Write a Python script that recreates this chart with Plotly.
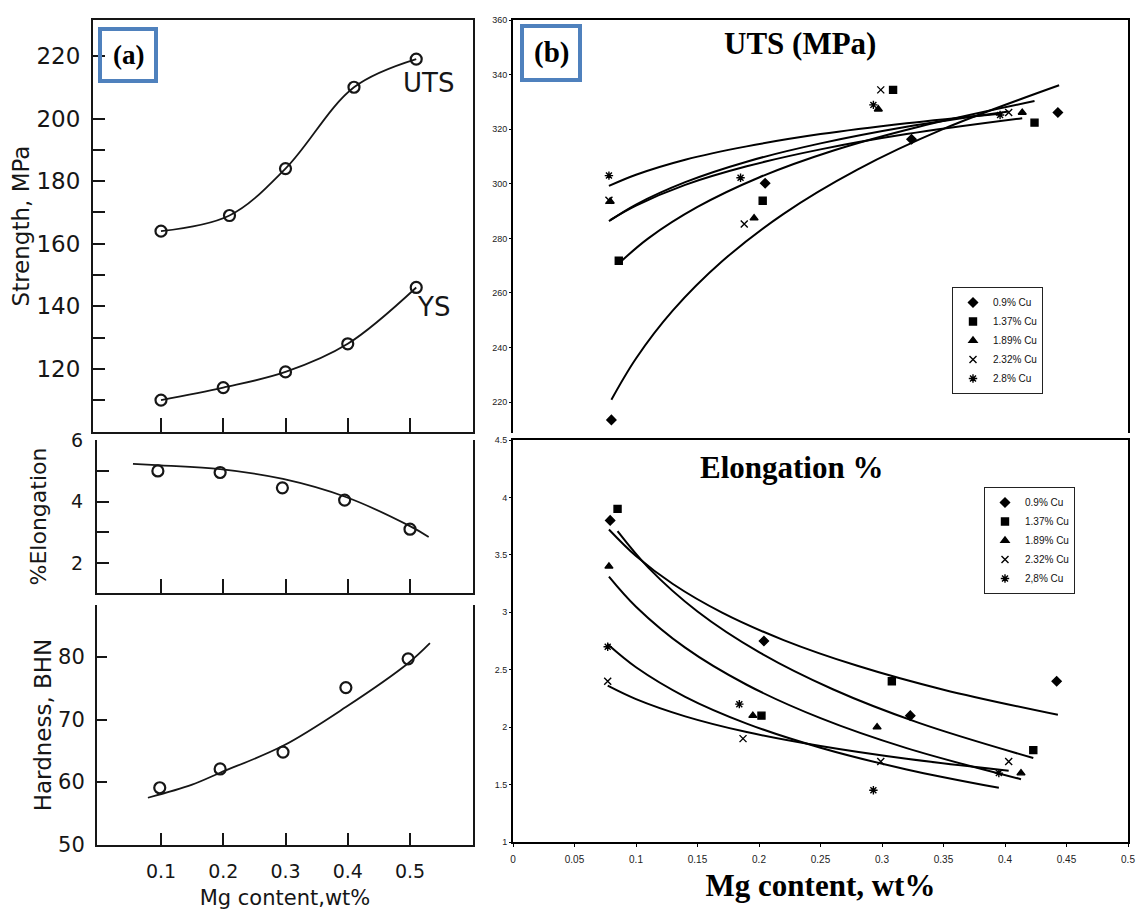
import plotly.graph_objects as go

W, H = 1137, 912


def fx(p):
    return p / W


def fy(p):
    return 1 - p / H


# ---------------- Panel (a) data ----------------
a_uts_x = [0.10, 0.21, 0.30, 0.41, 0.51]
a_uts = [164, 169, 184, 210, 219]
a_ys_x = [0.10, 0.20, 0.30, 0.40, 0.51]
a_ys = [110, 114, 119, 128, 146]

a_el_x = [0.095, 0.195, 0.295, 0.395, 0.50]
a_el = [5.0, 4.95, 4.45, 4.05, 3.1]
a_el_fit_x = [0.055, 0.10, 0.195, 0.296, 0.397, 0.50, 0.53]
a_el_fit = [5.23, 5.18, 5.06, 4.74, 4.15, 3.20, 2.85]

a_hd_x = [0.098, 0.195, 0.296, 0.397, 0.497]
a_hd = [59.1, 62.1, 64.8, 75.1, 79.7]
a_hd_fit_x = [0.079, 0.15, 0.195, 0.296, 0.397, 0.497, 0.532]
a_hd_fit = [57.5, 59.6, 61.5, 65.8, 72.0, 79.0, 82.2]

a_xticks = [0.1, 0.2, 0.3, 0.4, 0.5]
a_xticktext = ["0.1", "0.2", "0.3", "0.4", "0.5"]

# ---------------- Panel (b) data ----------------
series_names = ["0.9% Cu", "1.37% Cu", "1.89% Cu", "2.32% Cu", "2.8% Cu"]
series_names_el = ["0.9% Cu", "1.37% Cu", "1.89% Cu", "2.32% Cu", "2,8% Cu"]

uts_x_09 = [0.080, 0.205, 0.324, 0.443]
uts_09 = [213.5, 300.2, 316.3, 326.1]
uts_x_137 = [0.086, 0.203, 0.309, 0.424]
uts_137 = [271.8, 293.8, 334.4, 322.4]
uts_x_189 = [0.079, 0.196, 0.297, 0.414]
uts_189 = [293.5, 287.4, 327.3, 326.1]
uts_x_232 = [0.078, 0.188, 0.299, 0.403]
uts_232 = [294.0, 285.3, 334.4, 326.1]
uts_x_28 = [0.078, 0.185, 0.293, 0.396]
uts_28 = [303.0, 302.2, 328.9, 325.2]

# trend curves
uts_fit_x_09 = [0.080, 0.10, 0.13, 0.17, 0.22, 0.28, 0.35, 0.444]
uts_fit_09 = [220.9, 236.0, 253.6, 271.6, 289.0, 305.2, 320.1, 336.1]
uts_fit_x_137 = [0.086, 0.11, 0.15, 0.20, 0.26, 0.33, 0.424]
uts_fit_137 = [270.8, 280.0, 291.5, 302.3, 312.1, 320.9, 330.3]
uts_fit_x_189 = [0.079, 0.10, 0.14, 0.19, 0.25, 0.32, 0.414]
uts_fit_189 = [286.7, 292.0, 299.6, 306.4, 312.6, 318.2, 324.0]
uts_fit_x_232 = [0.078, 0.10, 0.14, 0.19, 0.25, 0.32, 0.403]
uts_fit_232 = [286.3, 292.4, 300.6, 308.1, 314.8, 320.9, 326.5]
uts_fit_x_28 = [0.078, 0.10, 0.14, 0.19, 0.25, 0.32, 0.396]
uts_fit_28 = [299.2, 303.3, 308.8, 313.7, 318.2, 322.2, 325.7]

el_x_09 = [0.079, 0.204, 0.323, 0.442]
el_09 = [3.8, 2.75, 2.1, 2.4]
el_x_137 = [0.085, 0.202, 0.308, 0.423]
el_137 = [3.9, 2.1, 2.4, 1.8]
el_x_189 = [0.078, 0.195, 0.296, 0.413]
el_189 = [3.4, 2.1, 2.0, 1.6]
el_x_232 = [0.077, 0.187, 0.299, 0.403]
el_232 = [2.4, 1.9, 1.7, 1.7]
el_x_28 = [0.077, 0.184, 0.293, 0.395]
el_28 = [2.7, 2.2, 1.45, 1.6]

el_fit_x_09 = [0.078, 0.10, 0.13, 0.17, 0.22, 0.28, 0.35, 0.443]
el_fit_09 = [3.721, 3.490, 3.246, 2.997, 2.758, 2.534, 2.326, 2.107]
el_fit_x_137 = [0.085, 0.11, 0.15, 0.20, 0.26, 0.33, 0.423]
el_fit_137 = [3.706, 3.389, 3.007, 2.653, 2.330, 2.037, 1.731]
el_fit_x_189 = [0.078, 0.10, 0.14, 0.19, 0.25, 0.32, 0.413]
el_fit_189 = [3.311, 3.049, 2.692, 2.369, 2.078, 1.817, 1.547]
el_fit_x_232 = [0.077, 0.10, 0.14, 0.19, 0.25, 0.32, 0.403]
el_fit_232 = [2.361, 2.244, 2.094, 1.957, 1.835, 1.724, 1.621]
el_fit_x_28 = [0.077, 0.10, 0.14, 0.19, 0.25, 0.32, 0.395]
el_fit_28 = [2.721, 2.521, 2.264, 2.031, 1.821, 1.632, 1.472]

b_xticks = [0, 0.05, 0.1, 0.15, 0.2, 0.25, 0.3, 0.35, 0.4, 0.45, 0.5]
b_xticktext = ["0", "0.05", "0.1", "0.15", "0.2", "0.25", "0.3", "0.35", "0.4", "0.45", "0.5"]
uts_yticks = [220, 240, 260, 280, 300, 320, 340, 360]
el_yticks = [1, 1.5, 2, 2.5, 3, 3.5, 4, 4.5]
el_yticktext = ["1", "1.5", "2", "2.5", "3", "3.5", "4", "4.5"]

symbols = ["diamond", "square", "triangle-up", "x-thin-open", "asterisk-open"]

INK = "#161616"
A_FONT = "DejaVu Sans"
B_FONT = "Liberation Sans"
SERIF = "Liberation Serif"

fig = go.Figure()

# ---------------- Panel (a) traces ----------------
circ = dict(symbol="circle-open", size=11, color=INK, line=dict(width=2.2, color=INK))
fig.add_trace(go.Scatter(x=a_uts_x, y=a_uts, mode="lines+markers", name="UTS",
                         line=dict(color=INK, width=1.8, shape="spline", smoothing=1.0),
                         marker=circ, xaxis="x", yaxis="y", showlegend=False))
fig.add_trace(go.Scatter(x=a_ys_x, y=a_ys, mode="lines+markers", name="YS",
                         line=dict(color=INK, width=1.8, shape="spline", smoothing=1.0),
                         marker=circ, xaxis="x", yaxis="y", showlegend=False))
fig.add_trace(go.Scatter(x=a_el_fit_x, y=a_el_fit, mode="lines", name="Elongation fit",
                         line=dict(color=INK, width=1.8, shape="spline"),
                         xaxis="x2", yaxis="y2", showlegend=False))
fig.add_trace(go.Scatter(x=a_el_x, y=a_el, mode="markers", name="% Elongation",
                         marker=circ, xaxis="x2", yaxis="y2", showlegend=False))
fig.add_trace(go.Scatter(x=a_hd_fit_x, y=a_hd_fit, mode="lines", name="Hardness fit",
                         line=dict(color=INK, width=1.8, shape="spline"),
                         xaxis="x3", yaxis="y3", showlegend=False))
fig.add_trace(go.Scatter(x=a_hd_x, y=a_hd, mode="markers", name="Hardness",
                         marker=circ, xaxis="x3", yaxis="y3", showlegend=False))

# ---------------- Panel (b) traces ----------------
uts_pts = [(uts_x_09, uts_09), (uts_x_137, uts_137), (uts_x_189, uts_189),
           (uts_x_232, uts_232), (uts_x_28, uts_28)]
uts_fits = [(uts_fit_x_09, uts_fit_09), (uts_fit_x_137, uts_fit_137), (uts_fit_x_189, uts_fit_189),
            (uts_fit_x_232, uts_fit_232), (uts_fit_x_28, uts_fit_28)]
el_pts = [(el_x_09, el_09), (el_x_137, el_137), (el_x_189, el_189),
          (el_x_232, el_232), (el_x_28, el_28)]
el_fits = [(el_fit_x_09, el_fit_09), (el_fit_x_137, el_fit_137), (el_fit_x_189, el_fit_189),
           (el_fit_x_232, el_fit_232), (el_fit_x_28, el_fit_28)]


def mk(sym):
    return dict(symbol=sym, size=7, color="black", line=dict(width=1.4, color="black"))


for (fxv, fyv) in uts_fits:
    fig.add_trace(go.Scatter(x=fxv, y=fyv, mode="lines", line=dict(color="black", width=2, shape="spline"),
                             xaxis="x4", yaxis="y4", showlegend=False, hoverinfo="skip"))
for i, (px_, py_) in enumerate(uts_pts):
    fig.add_trace(go.Scatter(x=px_, y=py_, mode="markers", name=series_names[i], marker=mk(symbols[i]),
                             xaxis="x4", yaxis="y4", legend="legend"))
for (fxv, fyv) in el_fits:
    fig.add_trace(go.Scatter(x=fxv, y=fyv, mode="lines", line=dict(color="black", width=2, shape="spline"),
                             xaxis="x5", yaxis="y5", showlegend=False, hoverinfo="skip"))
for i, (px_, py_) in enumerate(el_pts):
    fig.add_trace(go.Scatter(x=px_, y=py_, mode="markers", name=series_names_el[i], marker=mk(symbols[i]),
                             xaxis="x5", yaxis="y5", legend="legend2"))

# ---------------- Axes ----------------
a_xrange_top = [-0.00924, 0.6012]
a_xrange = [-0.0028, 0.6012]

common_a = dict(showgrid=False, zeroline=False, linecolor=INK, linewidth=2, tickcolor=INK,
                tickwidth=2)

lay = dict(
    width=W, height=H, margin=dict(l=0, r=0, t=0, b=0),
    paper_bgcolor="white", plot_bgcolor="white", template="none",
    xaxis=dict(domain=[fx(93), fx(473)], range=a_xrange_top, anchor="y", showline=True, mirror=True,
               tickmode="array", tickvals=a_xticks, ticks="inside", ticklen=14,
               showticklabels=False, automargin=False, **common_a),
    yaxis=dict(domain=[fy(432), fy(20)], range=[99.8, 231.5], anchor="x", showline=True, mirror=True,
               tickmode="array", tickvals=[120, 140, 160, 180, 200, 220], ticks="inside", ticklen=12,
               minor=dict(tickvals=[110, 130, 150, 170, 190], ticks="inside", ticklen=12,
                          tickwidth=2, tickcolor=INK),
               ticklabelstandoff=6, automargin=False,
               tickfont=dict(family=A_FONT, size=23, color=INK),
               title=dict(text="Strength, MPa", font=dict(family=A_FONT, size=23, color=INK), standoff=0),
               **common_a),
    xaxis2=dict(domain=[fx(97), fx(473)], range=a_xrange, anchor="y2", showline=True, mirror=False,
                tickmode="array", tickvals=a_xticks, ticks="inside", ticklen=14,
                showticklabels=False, automargin=False, **common_a),
    yaxis2=dict(domain=[fy(593), fy(440)], range=[1.02, 6.01], anchor="x2", showline=True, mirror=True,
                tickmode="array", tickvals=[2, 4, 6], ticks="inside", ticklen=12,
                minor=dict(tickvals=[3, 5], ticks="inside", ticklen=12, tickwidth=2, tickcolor=INK),
                ticklabelstandoff=8, automargin=False,
                tickfont=dict(family=A_FONT, size=19, color=INK),
                title=dict(text="%Elongation", font=dict(family=A_FONT, size=22, color=INK), standoff=18),
                **common_a),
    xaxis3=dict(domain=[fx(97), fx(473)], range=a_xrange, anchor="y3", showline=True, mirror=False,
                tickmode="array", tickvals=a_xticks, ticktext=a_xticktext, ticks="inside", ticklen=12,
                ticklabelstandoff=8, automargin=False,
                tickfont=dict(family=A_FONT, size=19, color=INK),
                title=dict(text="Mg content,wt%", font=dict(family=A_FONT, size=21, color=INK), standoff=10),
                **common_a),
    yaxis3=dict(domain=[fy(845), fy(605)], range=[49.95, 88.3], anchor="x3", showline=True, mirror=True,
                tickmode="array", tickvals=[50, 60, 70, 80], ticks="inside", ticklen=10,
                ticklabelstandoff=6, automargin=False,
                tickfont=dict(family=A_FONT, size=21, color=INK),
                title=dict(text="Hardness, BHN", font=dict(family=A_FONT, size=23, color=INK), standoff=0),
                **common_a),
    xaxis4=dict(domain=[fx(513), fx(1128)], range=[0, 0.5], anchor="y4", side="top", showline=True,
                mirror=False, linecolor="black", linewidth=2, showgrid=False, zeroline=False,
                showticklabels=False, ticks="", automargin=False),
    yaxis4=dict(domain=[fy(433), fy(20)], range=[208.7, 360], anchor="x4", showline=True, mirror=True,
                linecolor="black", linewidth=2, showgrid=False, zeroline=False,
                tickmode="array", tickvals=uts_yticks, ticks="outside", ticklen=2, tickcolor="black",
                tickfont=dict(family=B_FONT, size=9, color="#222"), automargin=False),
    xaxis5=dict(domain=[fx(513), fx(1128)], range=[0, 0.5], anchor="y5", showline=True, mirror=True,
                linecolor="black", linewidth=2, showgrid=False, zeroline=False,
                tickmode="array", tickvals=b_xticks, ticktext=b_xticktext, ticks="outside", ticklen=3,
                tickcolor="black", tickfont=dict(family=B_FONT, size=10, color="#222"),
                ticklabelstandoff=4, automargin=False,
                title=dict(text="<b>Mg content, wt%</b>", font=dict(family=SERIF, size=31, color="black"),
                           standoff=10)),
    yaxis5=dict(domain=[fy(842), fy(440)], range=[1, 4.5], anchor="x5", showline=True, mirror=True,
                linecolor="black", linewidth=2, showgrid=False, zeroline=False,
                tickmode="array", tickvals=el_yticks, ticktext=el_yticktext, ticks="outside", ticklen=2,
                tickcolor="black", tickfont=dict(family=B_FONT, size=9, color="#222"), automargin=False),
    legend=dict(x=fx(952), y=fy(287), xanchor="left", yanchor="top", bgcolor="white",
                bordercolor="#222", borderwidth=1, tracegroupgap=0, itemwidth=30,
                font=dict(family=B_FONT, size=10, color="#111")),
    legend2=dict(x=fx(984), y=fy(487), xanchor="left", yanchor="top", bgcolor="white",
                 bordercolor="#222", borderwidth=1, tracegroupgap=0, itemwidth=30,
                 font=dict(family=B_FONT, size=10, color="#111")),
    showlegend=True,
)
fig.update_layout(**lay)

BLUE = "#4F81BD"
fig.add_shape(type="rect", xref="paper", yref="paper", x0=fx(100), x1=fx(156), y0=fy(81), y1=fy(29),
              line=dict(color=BLUE, width=4), fillcolor="rgba(0,0,0,0)")
fig.add_shape(type="rect", xref="paper", yref="paper", x0=fx(522), x1=fx(580), y0=fy(80), y1=fy(26),
              line=dict(color=BLUE, width=4), fillcolor="rgba(0,0,0,0)")

mid = dict(showarrow=False, xanchor="center", yanchor="middle")
annotations = [
    dict(text="<b>(a)</b>", x=fx(128), y=fy(55), xref="paper", yref="paper",
         font=dict(family=SERIF, size=27, color="black"), **mid),
    dict(text="<b>(b)</b>", x=fx(551), y=fy(53), xref="paper", yref="paper",
         font=dict(family=SERIF, size=29, color="black"), **mid),
    dict(text="UTS", x=0.5305, y=211.4, xref="x", yref="y",
         font=dict(family=A_FONT, size=26, color=INK), **mid),
    dict(text="YS", x=0.537, y=139.7, xref="x", yref="y",
         font=dict(family=A_FONT, size=26, color=INK), **mid),
    dict(text="<b>UTS (MPa)</b>", x=fx(800), y=fy(43), xref="paper", yref="paper",
         font=dict(family=SERIF, size=31, color="black"), **mid),
    dict(text="<b>Elongation %</b>", x=fx(791), y=fy(467), xref="paper", yref="paper",
         font=dict(family=SERIF, size=31, color="black"), **mid),
]
fig.update_layout(annotations=annotations)

fig.write_html("out.html")
